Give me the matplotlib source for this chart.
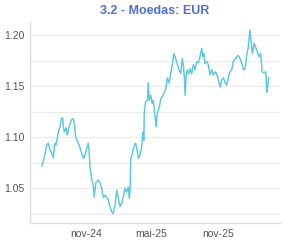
import numpy as np
import pandas as pd
import matplotlib
matplotlib.use("Agg")
import matplotlib.pyplot as plt
import matplotlib.dates as mdates
from matplotlib.ticker import MultipleLocator, FuncFormatter

# EUR exchange rate
dates = [
    "2024-07-02", "2024-07-06", "2024-07-11", "2024-07-15", "2024-07-20", "2024-07-23",
    "2024-07-26", "2024-07-29", "2024-08-03", "2024-08-05", "2024-08-07", "2024-08-10",
    "2024-08-12", "2024-08-16", "2024-08-21", "2024-08-26", "2024-08-29", "2024-08-30",
    "2024-09-02", "2024-09-07", "2024-09-10", "2024-09-13", "2024-09-18", "2024-09-22",
    "2024-09-27", "2024-09-30", "2024-10-04", "2024-10-11", "2024-10-15", "2024-10-20",
    "2024-10-25", "2024-10-29", "2024-11-03", "2024-11-07", "2024-11-10", "2024-11-12",
    "2024-11-17", "2024-11-21", "2024-11-24", "2024-11-28", "2024-12-01", "2024-12-05",
    "2024-12-10", "2024-12-14", "2024-12-19", "2024-12-24", "2024-12-28", "2025-01-02",
    "2025-01-06", "2025-01-11", "2025-01-15", "2025-01-20", "2025-01-25", "2025-01-29",
    "2025-02-03", "2025-02-08", "2025-02-12", "2025-02-17", "2025-02-21", "2025-02-26",
    "2025-03-01", "2025-03-03", "2025-03-05", "2025-03-09", "2025-03-12", "2025-03-15",
    "2025-03-18", "2025-03-23", "2025-03-26", "2025-03-28", "2025-03-30", "2025-04-04",
    "2025-04-07", "2025-04-10", "2025-04-11", "2025-04-15", "2025-04-20", "2025-04-22",
    "2025-04-25", "2025-04-29", "2025-05-03", "2025-05-06", "2025-05-11", "2025-05-14",
    "2025-05-17", "2025-05-23", "2025-05-27", "2025-06-01", "2025-06-05", "2025-06-09",
    "2025-06-14", "2025-06-19", "2025-06-23", "2025-06-28", "2025-07-02", "2025-07-07",
    "2025-07-11", "2025-07-16", "2025-07-21", "2025-07-25", "2025-07-28", "2025-07-31",
    "2025-08-02", "2025-08-05", "2025-08-08", "2025-08-12", "2025-08-16", "2025-08-20",
    "2025-08-25", "2025-08-29", "2025-09-03", "2025-09-08", "2025-09-12", "2025-09-17",
    "2025-09-20", "2025-09-23", "2025-09-26", "2025-10-01", "2025-10-05", "2025-10-10",
    "2025-10-15", "2025-10-19", "2025-10-24", "2025-10-28", "2025-11-02", "2025-11-07",
    "2025-11-11", "2025-11-16", "2025-11-20", "2025-11-25", "2025-11-30", "2025-12-04",
    "2025-12-09", "2025-12-13", "2025-12-18", "2025-12-23", "2025-12-27", "2026-01-01",
    "2026-01-06", "2026-01-10", "2026-01-15", "2026-01-19", "2026-01-24", "2026-01-28",
    "2026-01-31", "2026-02-04", "2026-02-09", "2026-02-14", "2026-02-19", "2026-02-22",
    "2026-02-27", "2026-03-03", "2026-03-08", "2026-03-13", "2026-03-16", "2026-03-18",
    "2026-03-20", "2026-03-22",
]
eur = [
    1.072, 1.076, 1.084, 1.092, 1.094, 1.089,
    1.087, 1.084, 1.080, 1.090, 1.094, 1.092,
    1.095, 1.104, 1.110, 1.119, 1.118, 1.112,
    1.105, 1.109, 1.102, 1.107, 1.113, 1.117,
    1.118, 1.112, 1.099, 1.094, 1.090, 1.084,
    1.079, 1.082, 1.089, 1.094, 1.084, 1.071,
    1.058, 1.053, 1.041, 1.055, 1.056, 1.058,
    1.055, 1.050, 1.041, 1.043, 1.041, 1.038,
    1.032, 1.027, 1.025, 1.032, 1.048, 1.041,
    1.032, 1.035, 1.041, 1.050, 1.046, 1.051,
    1.040, 1.050, 1.079, 1.084, 1.089, 1.092,
    1.094, 1.086, 1.079, 1.081, 1.082, 1.090,
    1.105, 1.097, 1.123, 1.135, 1.136, 1.153,
    1.136, 1.141, 1.133, 1.136, 1.120, 1.110,
    1.123, 1.130, 1.138, 1.140, 1.144, 1.146,
    1.158, 1.153, 1.162, 1.172, 1.182, 1.177,
    1.172, 1.166, 1.162, 1.177, 1.171, 1.158,
    1.141, 1.161, 1.166, 1.162, 1.167, 1.162,
    1.171, 1.166, 1.174, 1.173, 1.179, 1.187,
    1.179, 1.182, 1.172, 1.174, 1.171, 1.161,
    1.166, 1.161, 1.164, 1.162, 1.156, 1.149,
    1.156, 1.158, 1.154, 1.151, 1.159, 1.164,
    1.166, 1.174, 1.176, 1.179, 1.180, 1.177,
    1.172, 1.166, 1.167, 1.179, 1.189, 1.205,
    1.195, 1.182, 1.192, 1.187, 1.182, 1.179,
    1.182, 1.164, 1.163, 1.164, 1.144, 1.149,
    1.156, 1.158,
]
title = "3.2 - Moedas: EUR"
month_pt = ["jan", "fev", "mar", "abr", "mai", "jun",
            "jul", "ago", "set", "out", "nov", "dez"]

x = pd.to_datetime(dates)

plt.rcParams["font.family"] = ["Liberation Sans", "DejaVu Sans"]

fig = plt.figure(figsize=(2.85, 2.43), dpi=100)
ax = fig.add_axes([0.105, 0.082, 0.877, 0.827])

ax.plot(x, eur, color="#5bc8e0", linewidth=1.05)

ax.set_ylim(1.0157, 1.2127)
ax.set_xlim(pd.Timestamp("2024-05-30"), pd.Timestamp("2026-04-21"))

ax.yaxis.set_major_locator(MultipleLocator(0.05))
ax.yaxis.set_minor_locator(MultipleLocator(0.025))
ax.yaxis.set_major_formatter(FuncFormatter(lambda v, p: f"{v:.2f}"))
ax.grid(True, axis="y", which="both", color="#ebebeb", linewidth=0.8)
ax.set_axisbelow(True)

ax.xaxis.set_major_locator(mdates.MonthLocator(bymonth=[5, 11]))
ax.xaxis.set_major_formatter(FuncFormatter(
    lambda v, p: f"{month_pt[mdates.num2date(v).month - 1]}-{mdates.num2date(v).year % 100:02d}"))

ax.tick_params(axis="both", which="both", length=0, labelsize=7.5, colors="#555555")
ax.tick_params(axis="y", pad=4)
ax.tick_params(axis="x", pad=4)

for s in ["top", "right"]:
    ax.spines[s].set_visible(False)
for s in ["left", "bottom"]:
    ax.spines[s].set_color("#dddddd")
    ax.spines[s].set_linewidth(1.0)

ax.set_title(title, fontsize=9, fontweight="bold", color="#4f6fd2", pad=6)

fig.savefig("out.png", dpi=100)
